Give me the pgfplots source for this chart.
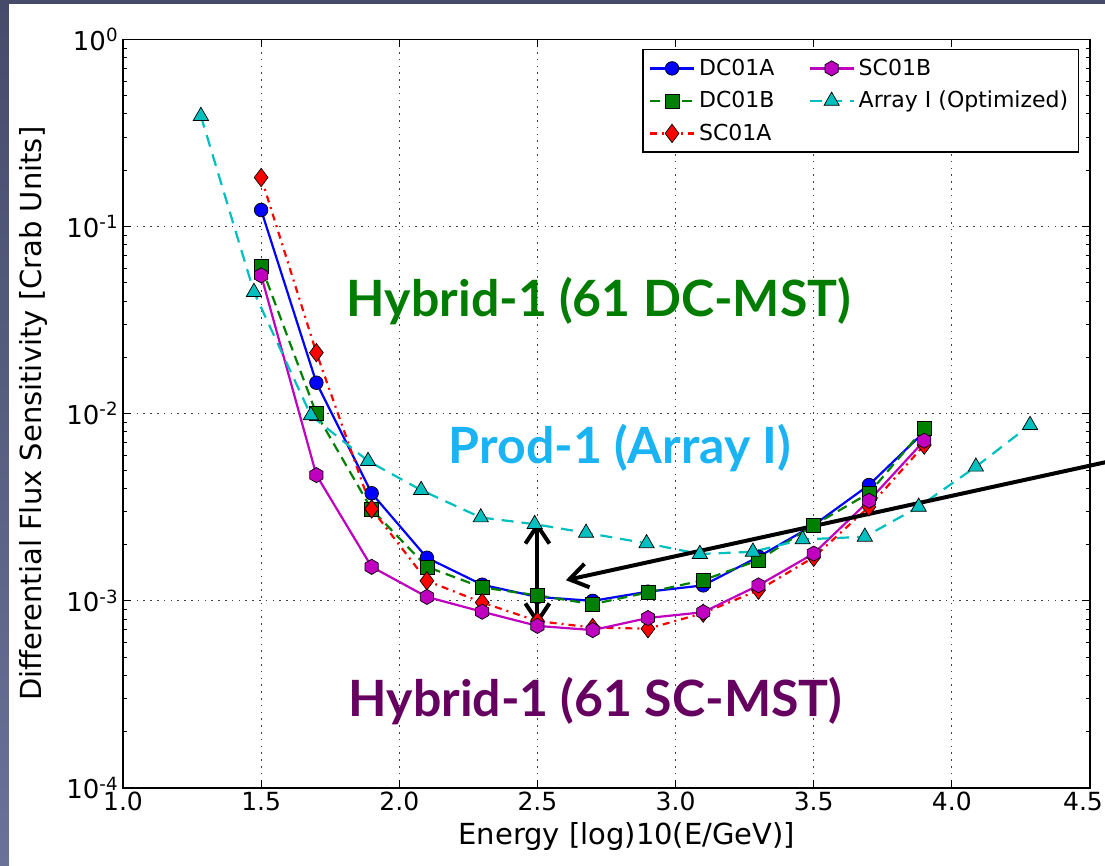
\documentclass[border=0pt]{standalone}
\usepackage{pgfplots}
\pgfplotsset{compat=1.18}
\usepackage{fontspec}
\setmainfont{DejaVu Sans}
\newfontfamily\notefont{Lato}
\usetikzlibrary{arrows.meta}

\definecolor{slatetop}{RGB}{70,75,106}
\definecolor{slatebot}{RGB}{106,114,152}
\definecolor{hybdc}{RGB}{0,125,0}
\definecolor{prodblue}{RGB}{26,180,245}
\definecolor{hybsc}{RGB}{102,0,96}
\definecolor{mplgreen}{RGB}{0,128,0}
\definecolor{mplmag}{RGB}{191,0,191}
\definecolor{mplcyan}{RGB}{0,191,191}

% filled hexagon mark, pointed top
\pgfdeclareplotmark{hexagon*}{%
  \pgfpathmoveto{\pgfpointpolar{90}{\pgfplotmarksize}}%
  \pgfpathlineto{\pgfpointpolar{150}{\pgfplotmarksize}}%
  \pgfpathlineto{\pgfpointpolar{210}{\pgfplotmarksize}}%
  \pgfpathlineto{\pgfpointpolar{270}{\pgfplotmarksize}}%
  \pgfpathlineto{\pgfpointpolar{330}{\pgfplotmarksize}}%
  \pgfpathlineto{\pgfpointpolar{30}{\pgfplotmarksize}}%
  \pgfpathclose
  \pgfusepathqfillstroke}

\pgfplotstableread{
x     y
1.5   0.1227
1.7   0.01465
1.9   0.00376
2.1   0.00170
2.3   0.00122
2.5   0.00105
2.7   0.00100
2.9   0.00112
3.1   0.00121
3.3   0.00172
3.5   0.00254
3.7   0.00416
3.9   0.0080
}\dcA
\pgfplotstableread{
x     y
1.5   0.0616
1.7   0.0100
1.9   0.00308
2.1   0.00152
2.3   0.00118
2.5   0.00107
2.7   0.00096
2.9   0.00111
3.1   0.00129
3.3   0.00165
3.5   0.00254
3.7   0.00376
3.9   0.00836
}\dcB
\pgfplotstableread{
x     y
1.5   0.183
1.7   0.0212
1.9   0.0031
2.1   0.00128
2.3   0.00098
2.5   0.00078
2.7   0.00072
2.9   0.00071
3.1   0.00086
3.3   0.00114
3.5   0.00171
3.7   0.00318
3.9   0.0068
}\scA
\pgfplotstableread{
x     y
1.5   0.0549
1.7   0.0047
1.9   0.00152
2.1   0.00105
2.3   0.000875
2.5   0.000735
2.7   0.000698
2.9   0.00081
3.1   0.00087
3.3   0.00121
3.5   0.00179
3.7   0.00343
3.9   0.00718
}\scB
\pgfplotstableread{
x      y
1.282  0.390
1.474  0.0447
1.680  0.0098
1.887  0.00559
2.079  0.00391
2.295  0.00279
2.490  0.00257
2.676  0.00231
2.895  0.00203
3.088  0.00178
3.280  0.00183
3.460  0.00213
3.685  0.00220
3.880  0.00318
4.087  0.00521
4.283  0.0087
}\arrI

\begin{document}
\begin{tikzpicture}
% slide frame: dark strip on the left and top, white page
\path[use as bounding box, clip] (0,0) rectangle (552.5pt,433pt);
\shade[top color=slatetop, bottom color=slatebot] (0,0) rectangle (552.5pt,433pt);
\fill[white] (4.25pt,0) rectangle (552.5pt,430.75pt);

\begin{axis}[
  at={(61.5pt,39pt)}, anchor=south west,
  scale only axis, width=483.5pt, height=374.25pt,
  clip=false,
  xmin=1, xmax=4.5, ymin=1e-4, ymax=1, ymode=log,
  xtick={1,1.5,2,2.5,3,3.5,4,4.5},
  % the last label is nudged left so that it stays on the page
  xticklabels={1.0,1.5,2.0,2.5,3.0,3.5,4.0,4.5\kern7pt},
  ytick={1e-4,1e-3,1e-2,1e-1,1},
  yticklabels={10\textsuperscript{-4},10\textsuperscript{-3},10\textsuperscript{-2},10\textsuperscript{-1},10\textsuperscript{0}},
  minor ytick={2e-4,3e-4,4e-4,5e-4,6e-4,7e-4,8e-4,9e-4,
               2e-3,3e-3,4e-3,5e-3,6e-3,7e-3,8e-3,9e-3,
               2e-2,3e-2,4e-2,5e-2,6e-2,7e-2,8e-2,9e-2,
               2e-1,3e-1,4e-1,5e-1,6e-1,7e-1,8e-1,9e-1},
  tick align=inside, major tick length=4pt, minor tick length=2pt,
  tick style={black, line width=0.5pt},
  axis line style={black, line width=0.8pt},
  grid=major,
  major grid style={black!75, line width=0.5pt, dash pattern=on 0.8pt off 2.6pt},
  yticklabel style={font=\fontsize{13}{15}\selectfont, inner xsep=2pt},
  xticklabel style={font=\fontsize{12.5}{14}\selectfont, inner ysep=2pt},
  xlabel={Energy [log)10(E/GeV)]},
  ylabel={Differential Flux Sensitivity [Crab Units]},
  every axis x label/.style={at={(axis description cs:0.521,-0.065)}, anchor=center,
    font=\fontsize{14.5}{16}\selectfont},
  every axis y label/.style={at={(axis description cs:-0.093,0.5)}, anchor=center, rotate=90,
    font=\fontsize{14.5}{16}\selectfont},
  legend columns=2,
  legend cell align=left,
  legend style={at={(1,1)}, anchor=north east, xshift=-5.5pt, yshift=-4.75pt,
    draw=black, line width=0.75pt, font=\fontsize{11}{13}\selectfont,
    inner xsep=3pt, inner ysep=2.5pt,
    /tikz/every even column/.append style={column sep=15pt},
    row sep=2.5pt},
  legend image code/.code={%
    \draw[mark repeat=2, mark phase=2] plot coordinates {(0pt,0pt) (11pt,0pt) (22pt,0pt)};},
  every axis plot/.append style={line width=1.1pt},
]

% series, drawn in their stacking order
\addplot[blue, mark=*, mark size=3.4pt,
  mark options={solid, draw=black, line width=0.35pt, fill=blue}, forget plot]
  table[x=x, y=y] {\dcA};
\addplot[mplgreen, dash pattern=on 5pt off 3pt, mark=square*, mark size=3.5pt,
  mark options={solid, draw=black, line width=0.35pt, fill=mplgreen}, forget plot]
  table[x=x, y=y] {\dcB};
\addplot[red, dash pattern=on 3.5pt off 2.5pt on 1pt off 2.5pt, mark=diamond*, mark size=4.6pt,
  mark options={solid, draw=black, line width=0.35pt, fill=red}, forget plot]
  table[x=x, y=y] {\scA};
\addplot[mplmag, mark=hexagon*, mark size=3.8pt,
  mark options={solid, draw=black, line width=0.35pt, fill=mplmag}, forget plot]
  table[x=x, y=y] {\scB};
\addplot[mplcyan, dash pattern=on 6pt off 4pt, mark=triangle*, mark size=4.4pt,
  mark options={solid, draw=black, line width=0.35pt, fill=mplcyan}, forget plot]
  table[x=x, y=y] {\arrI};

% legend, two columns
\addlegendimage{blue, mark=*, mark size=3.4pt, mark options={solid, draw=black, line width=0.35pt, fill=blue}}
\addlegendimage{mplmag, mark=hexagon*, mark size=3.8pt, mark options={solid, draw=black, line width=0.35pt, fill=mplmag}}
\addlegendimage{mplgreen, dash pattern=on 5pt off 3pt, mark=square*, mark size=3.5pt, mark options={solid, draw=black, line width=0.35pt, fill=mplgreen}}
\addlegendimage{mplcyan, dash pattern=on 6pt off 4pt, mark=triangle*, mark size=4.4pt, mark options={solid, draw=black, line width=0.35pt, fill=mplcyan}}
\addlegendimage{red, dash pattern=on 3.5pt off 2.5pt on 1pt off 2.5pt, mark=diamond*, mark size=4.6pt, mark options={solid, draw=black, line width=0.35pt, fill=red}}
\legend{DC01A, SC01B, DC01B, Array I (Optimized), SC01A}

% array labels
\node[anchor=base, text=hybdc, font=\notefont\bfseries\fontsize{25}{29}\selectfont]
  at (axis cs:2.723,0.0329) {Hybrid-1 (61 DC-MST)};
\node[anchor=base, text=prodblue, font=\notefont\bfseries\fontsize{25}{29}\selectfont]
  at (axis cs:2.799,0.00545) {Prod-1 (Array I)};
\node[anchor=base, text=hybsc, font=\notefont\bfseries\fontsize{25}{29}\selectfont]
  at (axis cs:2.710,0.000240) {Hybrid-1 (61 SC-MST)};

% gap between Prod-1 and the hybrid arrays at 316 GeV
\draw[black, line width=2pt, line cap=round,
  {Straight Barb[length=9pt, width=12pt, line width=2pt]}-{Straight Barb[length=9pt, width=12pt, line width=2pt]}]
  (axis cs:2.5,0.00264) -- (axis cs:2.5,0.000743);
\draw[black, line width=2pt, line cap=round,
  -{Straight Barb[length=9pt, width=12pt, line width=2pt]}]
  (axis cs:4.898,0.00710) -- (axis cs:2.603,0.00129);
\end{axis}
\end{tikzpicture}
\end{document}
